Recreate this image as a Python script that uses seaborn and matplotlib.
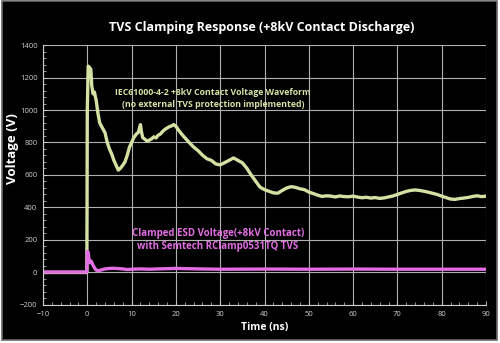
import matplotlib
matplotlib.use("Agg")
import matplotlib.pyplot as plt
import seaborn as sns
import pandas as pd
from matplotlib.ticker import MultipleLocator
from matplotlib.patches import Rectangle

# ---- data ----
green_t = [-10, -0.1, 0.0, 0.2, 0.5, 0.8, 1.0, 1.3, 1.6, 2.0, 2.4, 2.8, 3.2, 3.6, 4.0, 4.5,
           5.0, 5.5, 6.0, 6.5, 7.0, 7.5, 8.0, 8.5, 9.0, 9.5, 10.0, 10.5, 11.0, 11.5, 12.0,
           12.2, 12.5, 13.0, 13.5, 14.0, 14.5, 15, 15.5, 16, 16.5, 17, 17.5, 18, 18.5, 19,
           19.5, 20, 20.5, 21, 21.5, 22, 23, 24, 25, 26, 27, 28, 29, 30, 31, 32, 33, 34, 35,
           36, 37, 38, 39, 40, 41, 42, 43, 44, 45, 46, 47, 48, 49, 50, 51, 52, 53, 54, 55,
           56, 57, 58, 59, 60, 61, 62, 63, 64, 65, 66, 67, 68, 69, 70, 71, 72, 73, 74, 75,
           76, 77, 78, 79, 80, 81, 82, 83, 84, 85, 86, 87, 88, 89, 90]
green_v = [0, 0, 1000, 1270, 1262, 1250, 1150, 1100, 1110, 1060, 980, 920, 900, 880, 860, 800,
           760, 730, 690, 660, 630, 642, 660, 680, 720, 770, 800, 830, 850, 862, 910,
           870, 830, 820, 808, 815, 822, 835, 828, 845, 852, 868, 880, 889, 897, 902,
           910, 900, 880, 862, 845, 830, 800, 772, 750, 722, 700, 690, 668, 662, 676, 690, 705, 690, 675,
           642, 600, 562, 525, 510, 500, 490, 488, 505, 520, 528, 524, 515, 510, 495, 486, 476, 468, 472, 470,
           465, 471, 467, 466, 470, 464, 460, 463, 458, 461, 456, 459, 465, 471, 480, 490, 499, 505, 508, 505,
           500, 494, 487, 480, 470, 461, 452, 450, 455, 458, 462, 468, 472, 467, 470]

mag_t = [-10, -0.1, 0.0, 0.2, 0.4, 0.6, 0.9, 1.2, 1.6, 2.0, 2.5, 3, 4, 5, 6, 7, 8, 9, 10,
         12, 14, 16, 20, 25, 30, 40, 50, 60, 70, 80, 90]
mag_v = [3, 3, 130, 125, 80, 60, 70, 50, 30, 15, 10, 15, 22, 25, 26, 24, 22, 18, 20,
         22, 20, 22, 25, 22, 20, 21, 20, 21, 20, 20, 20]

title = "TVS Clamping Response (+8kV Contact Discharge)"
green_label = "IEC61000-4-2 +8kV Contact Voltage Waveform\n(no external TVS protection implemented)"
mag_label = "Clamped ESD Voltage(+8kV Contact)\nwith Semtech RClamp0531TQ TVS"
xticks = list(range(-10, 91, 10))
yticks = list(range(-200, 1401, 200))

# ---- plotting ----
sns.set_style("darkgrid", {"axes.facecolor": "black", "grid.color": "#b0b0b0",
                           "axes.grid": True})
plt.rcParams['font.family'] = ['Open Sans', 'DejaVu Sans']

GREEN = "#d3e2a3"
MAG = "#e36ee3"

fig = plt.figure(figsize=(5, 3.43), dpi=100)
fig.patch.set_facecolor("white")
bg = Rectangle((2 / 500, 3 / 343), 495 / 500, 339 / 343, transform=fig.transFigure,
               facecolor="black", edgecolor="#6a6a6a", linewidth=1.2, zorder=-10)
fig.add_artist(bg)

ax = fig.add_axes([0.086, 0.1108, 0.886, 0.758])
ax.set_zorder(1)
ax.set_facecolor("black")

dg = pd.DataFrame({"t": green_t, "v": green_v})
dm = pd.DataFrame({"t": mag_t, "v": mag_v})
sns.lineplot(data=dg, x="t", y="v", ax=ax, color=GREEN, linewidth=2.4, sort=False, estimator=None)
sns.lineplot(data=dm, x="t", y="v", ax=ax, color=MAG, linewidth=2.4, sort=False, estimator=None)

ax.set_xlim(-10, 90)
ax.set_ylim(-200, 1400)
ax.set_xticks(xticks)
ax.set_yticks(yticks)
ax.xaxis.set_minor_locator(MultipleLocator(2))
ax.yaxis.set_minor_locator(MultipleLocator(40))
ax.set_axisbelow(True)
ax.xaxis.grid(True, which="major", color="#b0b0b0", linewidth=0.8, linestyle="-")
ax.yaxis.grid(True, which="major", color="#b0b0b0", linewidth=0.8, linestyle="-")
ax.xaxis.grid(False, which="minor")
ax.yaxis.grid(False, which="minor")
ax.tick_params(axis="both", which="major", colors="#cfcfcf", labelsize=5.5, direction="in",
               length=3, width=0.6, bottom=True, left=True, pad=4)
ax.tick_params(axis="both", which="minor", colors="#cfcfcf", direction="in", length=2,
               width=0.5, bottom=True, left=True)
for s in ["top", "right"]:
    ax.spines[s].set_visible(False)
for s in ["left", "bottom"]:
    ax.spines[s].set_visible(True)
    ax.spines[s].set_color("#cfcfcf")
    ax.spines[s].set_linewidth(0.8)

ax.set_xlabel("Time (ns)", color="white", fontsize=7.5, fontweight="bold", labelpad=3)
ax.set_ylabel("Voltage (V)", color="white", fontsize=9.5, fontweight="bold")
ax.yaxis.set_label_coords(-0.054, 0.60)

fig.text(0.524, 0.921, title, color="white", fontsize=9, fontweight="bold",
         ha="center", va="center", zorder=5)

ax.text(28.4, 1071, green_label, color=GREEN, fontsize=6.3, fontweight="bold",
        ha="center", va="center", linespacing=1.35)
ax.text(29.5, 200, mag_label, color=MAG, fontsize=7.0, fontweight="bold",
        ha="center", va="center", linespacing=1.35)

fig.savefig("out.png", dpi=100, facecolor=fig.get_facecolor())
